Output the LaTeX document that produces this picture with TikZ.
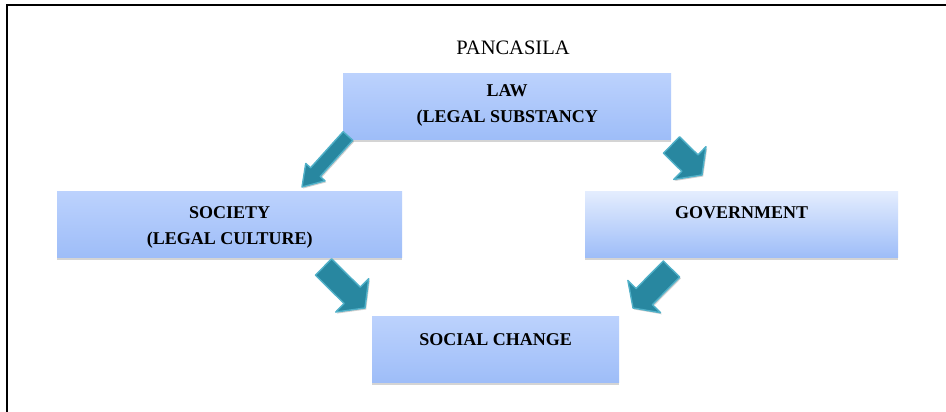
\documentclass[tikz,border=0pt]{standalone}
\usepackage{fontspec}
\setmainfont{Liberation Serif}
\usetikzlibrary{calc,shadows}
\definecolor{boxtop}{RGB}{188,210,253}
\definecolor{boxbot}{RGB}{158,189,248}
\definecolor{govtop}{RGB}{228,237,254}
\definecolor{tealfill}{RGB}{40,135,160}
\definecolor{tealedge}{RGB}{80,176,200}
\definecolor{boxshadow}{RGB}{212,212,212}
\tikzset{
  box/.style={draw=none, shading=axis, top color=boxtop, bottom color=boxbot,
    minimum width=#1, minimum height=66pt, inner sep=0pt, anchor=north west},
  box/.default=300pt,
  govbox/.style={box=#1, top color=govtop},
  boxlabel/.style={font=\bfseries\fontsize{18}{26}\selectfont, align=center, anchor=north, inner sep=0pt},
  arrowshape/.style={fill=tealfill, draw=tealedge, line width=1.4pt, line join=round,
    drop shadow={shadow xshift=1.2pt, shadow yshift=-1.5pt, fill=black, opacity=0.18}},
  frame/.style={line width=2pt, draw=black},
}
% #1 tail, #2 tip, #3 half shaft width, #4 half head width, #5 head length
\newcommand{\blockarrow}[5]{%
  \path ($(#2)!#5!(#1)$) coordinate (neck);
  \filldraw[arrowshape] ($(#1)!#3!90:(#2)$) -- ($(neck)!#3!90:(#2)$) -- ($(neck)!#4!90:(#2)$)
    -- (#2) -- ($(neck)!#4!-90:(#2)$) -- ($(neck)!#3!-90:(#2)$) -- ($(#1)!#3!-90:(#2)$) -- cycle;}
\begin{document}
\begin{tikzpicture}[x=1pt,y=-1pt]
\useasboundingbox (0,0) rectangle (946,412);
\fill[white] (0,0) rectangle (946,412);
% frame
\draw[frame] (7,412) -- (7,5) -- (946,5);
% title
\node[font=\fontsize{20.5}{24}\selectfont, inner sep=0pt] (title) at (513,48) {PANCASILA};
% shadows under boxes
\fill[boxshadow] (343,76) rectangle (671,142);
\fill[boxshadow] (57,194) rectangle (402,260);
\fill[boxshadow] (585,194) rectangle (898,260);
\fill[boxshadow] (372,319) rectangle (619,385);
% boxes
\node[box=328pt] (law) at (343,73) {};
\node[box=345pt] (society) at (57,191) {};
\node[govbox=313pt] (gov) at (585,191) {};
\node[box=247pt] (social) at (372,316) {};
% labels
\node[boxlabel] (lawtext) at ($(law.north)+(0,11)$) {LAW\\(LEGAL SUBSTANCY};
\node[boxlabel] (soctext) at ($(society.north)+(0,15)$) {SOCIETY\\(LEGAL CULTURE)};
\node[boxlabel] (govtext) at ($(gov.north)+(0,15)$) {GOVERNMENT};
\node[boxlabel] (sctext) at ($(social.north)+(0,17)$) {SOCIAL CHANGE};
% arrow end points
\coordinate (a1t) at (348,136);
\coordinate (a1p) at (302,187);
\coordinate (a2t) at (671.5,145);
\coordinate (a2p) at (702,175);
\coordinate (a3t) at (323.5,267);
\coordinate (a3p) at (365,308);
\coordinate (a4t) at (671.5,269);
\coordinate (a4p) at (633,308);
\blockarrow{a1t}{a1p}{6.5pt}{13pt}{20pt}
\blockarrow{a2t}{a2p}{11.5pt}{23pt}{17pt}
\blockarrow{a3t}{a3p}{11.5pt}{23.5pt}{18pt}
\blockarrow{a4t}{a4p}{11.5pt}{23pt}{16pt}
\end{tikzpicture}
\end{document}
